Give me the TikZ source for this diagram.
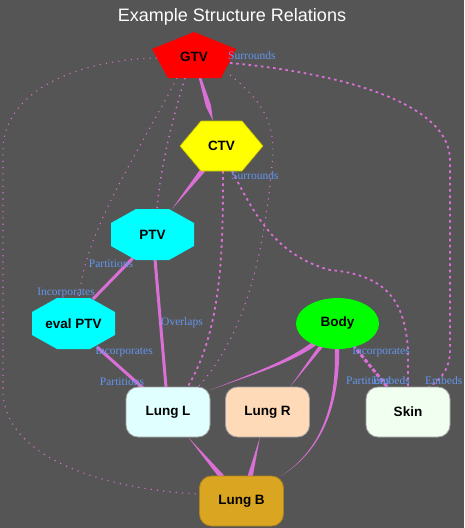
\documentclass[tikz,border=0pt]{standalone}
\usepackage{fontspec}
\setmainfont{Liberation Serif}
\newfontfamily\arialf{Liberation Sans}
\usetikzlibrary{calc,shapes.geometric}
\definecolor{bgc}{HTML}{555555}
\definecolor{edgec}{HTML}{DA70D6}
\definecolor{labc}{HTML}{6495ED}
\definecolor{boxline}{HTML}{A0A0A0}
\definecolor{lcyan}{HTML}{E0FFFF}
\definecolor{peach}{HTML}{FFDAB9}
\definecolor{honey}{HTML}{F0FFF0}
\definecolor{golden}{HTML}{DAA520}
\definecolor{aquac}{HTML}{00FFFF}
\definecolor{yelc}{HTML}{FFFF00}
\definecolor{grnc}{HTML}{00FF00}
\definecolor{redc}{HTML}{FF0000}
\newcommand\taperline[3]{\fill[edgec] ($(#1)!#3!90:(#2)$) -- (#2) -- ($(#1)!#3!-90:(#2)$) -- cycle;}
\begin{document}
\begin{tikzpicture}[x=1pt,y=-1pt,
  ntext/.style={font=\arialf\bfseries\fontsize{13.5}{16}\selectfont, text=black, inner sep=0pt},
  elab/.style={font=\fontsize{11.5}{13}\selectfont, text=labc, inner sep=0pt},
  lungbox/.style={rectangle, rounded corners=12pt, minimum width=84pt, minimum height=50pt,
     draw=boxline, line width=0.8pt, inner sep=0pt, font=\arialf\bfseries\fontsize{13.5}{16}\selectfont, text=black},
  solidedge/.style={draw=edgec, line width=3pt},
  dashedge/.style={draw=edgec, line width=3pt, dash pattern=on 4pt off 2.2pt},
  finedot/.style={draw=edgec, line width=1.1pt, dash pattern=on 1.1pt off 5.2pt},
  meddot/.style={draw=edgec, line width=1.4pt, dash pattern=on 1.4pt off 4.6pt},
  thickdot/.style={draw=edgec, line width=1.8pt, dash pattern=on 2.6pt off 3.6pt},
  octfill/.style={fill=aquac}
]
\useasboundingbox (0,0) rectangle (464,528);
\fill[bgc] (0,0) rectangle (464,528);

% ---- node centres ----
\coordinate (gtvc) at (194,57);
\coordinate (ctvc) at (221.5,146);
\coordinate (ptvc) at (152.5,234.5);
\coordinate (evalc) at (73.5,323.5);
\coordinate (bodyc) at (337.5,323.5);
\coordinate (lunglc) at (168,412);
\coordinate (lungrc) at (267.5,412);
\coordinate (skinc) at (408,412);
\coordinate (lungbc) at (241.5,501);

% ---- edge end points ----
\coordinate (e1a) at ($(gtvc)+(6,21)$);
\coordinate (e1m) at ($(ctvc)+(-13,-40)$);
\coordinate (e1b) at ($(ctvc)+(-8.5,-25)$);
\coordinate (e2a) at ($(ctvc)+(-18.5,24)$);
\coordinate (e2b) at ($(ptvc)+(19.5,-25.5)$);
\coordinate (e3a) at ($(ptvc)+(-19.5,23.5)$);
\coordinate (e3b) at ($(evalc)+(19.5,-24.5)$);
\coordinate (e4a) at ($(ptvc)+(2.5,24.5)$);
\coordinate (e4b) at ($(lunglc)+(-2,-25)$);
\coordinate (e5a) at ($(evalc)+(23.5,23.5)$);
\coordinate (e5b) at ($(lunglc)+(-25,-24)$);
\coordinate (e6a) at ($(bodyc)+(-22.5,19.5)$);
\coordinate (e6b) at ($(lunglc)+(42,-22)$);
\coordinate (e7a) at ($(bodyc)+(-15.5,21.5)$);
\coordinate (e7b) at ($(lungrc)+(22.5,-25)$);
\coordinate (e8a) at ($(bodyc)+(-0.5,24.5)$);
\coordinate (e8b) at ($(lungbc)+(39.5,-25)$);
\coordinate (e9a) at ($(bodyc)+(15.5,21.5)$);
\coordinate (e9b) at ($(skinc)+(-19,-23)$);
\coordinate (e10a) at ($(lunglc)+(20,25)$);
\coordinate (e10b) at ($(lungbc)+(-19.5,-24)$);
\coordinate (e11a) at ($(lungrc)+(-7.5,25)$);
\coordinate (e11b) at ($(lungbc)+(8.5,-24)$);

\coordinate (dAa) at ($(gtvc)+(-37,1)$);
\coordinate (dAb) at ($(lungbc)+(-41.5,-7)$);
\coordinate (dBa) at ($(gtvc)+(-17,21)$);
\coordinate (dBb) at ($(evalc)+(5.5,-25.5)$);
\coordinate (dCa) at ($(gtvc)+(-9,21)$);
\coordinate (dCb) at ($(ptvc)+(4.5,-25.5)$);
\coordinate (dDa) at ($(gtvc)+(36,18)$);
\coordinate (dDb) at ($(lunglc)+(30,-25)$);
\coordinate (dEa) at ($(gtvc)+(36,6)$);
\coordinate (dEb) at ($(skinc)+(20,-24)$);
\coordinate (dFa) at ($(ctvc)+(10.5,25)$);
\coordinate (dFb) at ($(skinc)+(0,-25)$);
\coordinate (dGa) at ($(ctvc)+(1.5,25)$);
\coordinate (dGb) at ($(lunglc)+(19,-24)$);

% ---- dotted edges ----
\draw[finedot] (dAa) .. controls (70,60) and (3,95) .. (3,150) -- (3,390)
   .. controls (3,460) and (110,490) .. (dAb);
\draw[finedot] (dBa) .. controls (140,150) and (85,230) .. (dBb);
\draw[meddot] (dCa) .. controls (172,120) and (160,170) .. (dCb);
\draw[finedot] (dDa) .. controls (268,105) and (276,130) .. (272,165)
   .. controls (265,240) and (250,330) .. (dDb);
\draw[thickdot] (dEa) .. controls (330,72) and (450,100) .. (450,160) -- (450,350)
   .. controls (450,370) and (440,380) .. (dEb);
\draw[thickdot] (dFa) .. controls (255,215) and (275,255) .. (330,270)
   .. controls (390,275) and (405,305) .. (408,350) -- (dFb);
\draw[thickdot] (dGa) .. controls (223,250) and (222,330) .. (dGb);

% ---- solid / tapered edges ----
\fill[edgec] ($(e1a)+(1.15,-0.35)$) -- ($(e1m)+(2.5,-0.75)$) -- (e1b)
   -- ($(e1m)-(2.5,-0.75)$) -- ($(e1a)-(1.15,-0.35)$) -- cycle;
\taperline{e2a}{e2b}{2.6pt}
\draw[solidedge] (e3a) -- (e3b);
\draw[solidedge] (e4a) -- (e4b);
\draw[solidedge] (e5a) -- (e5b);
\fill[edgec] ($(e6a)+(1.5,2)$) .. controls (291,363.3) and (250.4,375.5) .. (e6b)
   .. controls (249.6,374.5) and (289,360.7) .. ($(e6a)-(1.5,2)$) -- cycle;
\taperline{e7a}{e7b}{2pt}
\fill[edgec] ($(e8a)+(2.2,0)$) .. controls (339.5,400) and (325.6,448.3) .. (e8b)
   .. controls (324.4,447.7) and (336.5,400) .. ($(e8a)-(2.2,0)$) -- cycle;
\draw[dashedge] (e9a) -- (e9b);
\taperline{e10b}{e10a}{2.6pt}
\taperline{e11b}{e11a}{2.6pt}

% ---- node shapes ----
\fill[redc] (194,32) -- (236,49) -- (221,78) -- (168,78) -- (152,49) -- cycle;
\filldraw[fill=yelc, draw=yelc!75!black, line width=0.6pt]
   (180,146) -- (201,121) -- (242,121) -- (263,146) -- (242,171) -- (201,171) -- cycle;
\fill[octfill, shift={(152.5,234.5)}] (-16.5,-25.5) -- (16.5,-25.5) -- (41.5,-11.5) -- (41.5,11.5)
   -- (16.5,25.5) -- (-16.5,25.5) -- (-41.5,11.5) -- (-41.5,-11.5) -- cycle;
\fill[octfill, shift={(73.5,323.5)}] (-16.5,-25.5) -- (16.5,-25.5) -- (41.5,-11.5) -- (41.5,11.5)
   -- (16.5,25.5) -- (-16.5,25.5) -- (-41.5,11.5) -- (-41.5,-11.5) -- cycle;

\node[ntext] (gtv) at (gtvc) {GTV};
\node[ntext] (ctv) at (ctvc) {CTV};
\node[ntext] (ptv) at (ptvc) {PTV};
\node[ntext] (evalptv) at (evalc) {eval PTV};
\node[ellipse, fill=grnc, minimum width=83pt, minimum height=51pt, inner sep=0pt,
      font=\arialf\bfseries\fontsize{13.5}{16}\selectfont, text=black] (body) at (bodyc) {Body};
\node[lungbox, fill=lcyan] (lungl) at (lunglc) {Lung L};
\node[lungbox, fill=peach] (lungr) at (lungrc) {Lung R};
\node[lungbox, fill=honey] (skin) at (skinc) {Skin};
\node[lungbox, fill=golden, draw=golden!80!black] (lungb) at (lungbc) {Lung B};

% ---- labels ----
\node[font=\arialf\fontsize{18}{20}\selectfont, text=white, inner sep=0pt] (title) at (232,17) {Example Structure Relations};
\node[elab, anchor=west] (l1) at (228,56) {Surrounds};
\node[elab, anchor=west] (l2) at (231,176) {Surrounds};
\node[elab] (l3) at (111,264) {Partitions};
\node[elab] (l4) at (66,293) {Incorporates};
\node[elab] (l5) at (182,323) {Overlaps};
\node[elab] (l6) at (124,352) {Incorporates};
\node[elab] (l7) at (122,382) {Partitions};
\node[elab] (l8) at (381,352) {Incorporates};
\node[elab, anchor=west] (l9) at (346,381) {Partitions};
\node[elab, anchor=east] (l10) at (410,381) {Embeds};
\node[elab, anchor=west] (l11) at (425,381) {Embeds};
\end{tikzpicture}
\end{document}
